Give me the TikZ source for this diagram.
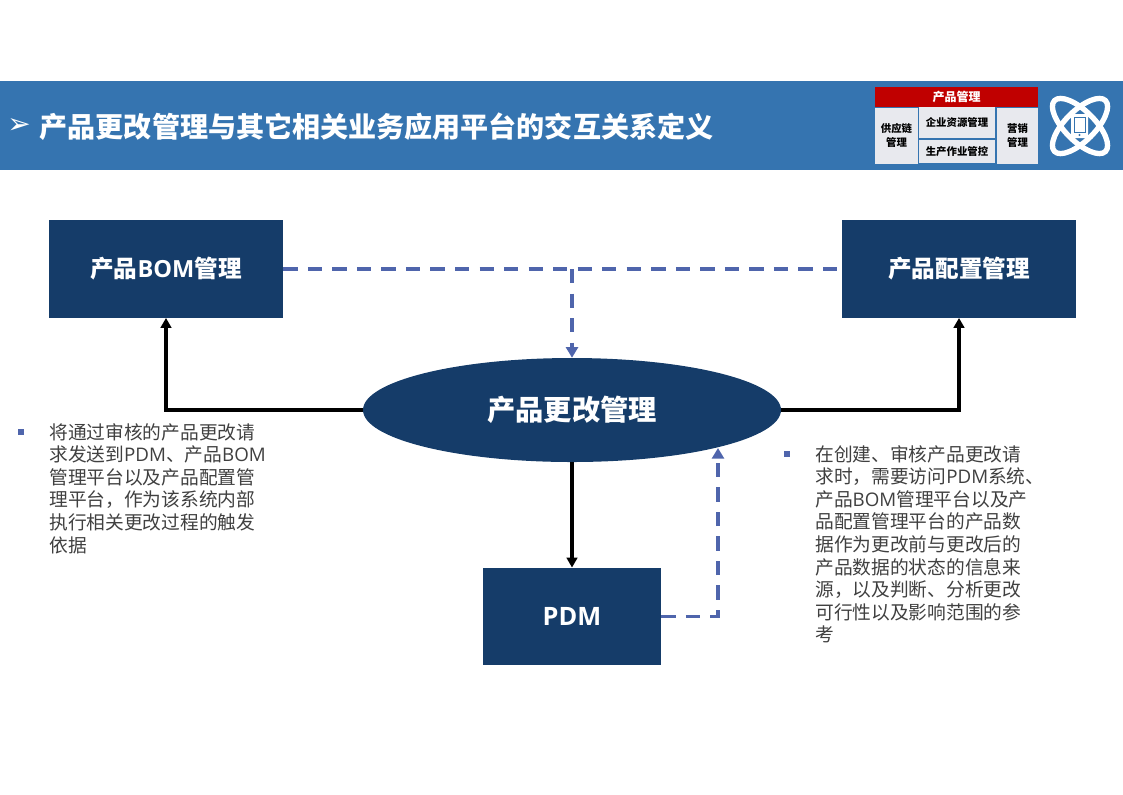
\documentclass[tikz,border=0pt]{standalone}
\usepackage{fontspec}
\setmainfont{Noto Sans CJK SC}
\newfontfamily\latfont{Open Sans}
\newfontfamily\symfont{DejaVu Sans}
\usetikzlibrary{arrows.meta,shapes.geometric}

\definecolor{bannerblue}{HTML}{3574B0}
\definecolor{boxnavy}{HTML}{153C69}
\definecolor{dashblue}{HTML}{4F65AC}
\definecolor{logored}{HTML}{C00000}
\definecolor{cellgray}{HTML}{E8E9EE}
\definecolor{bodygray}{HTML}{404040}

\tikzset{
  navybox/.style={fill=boxnavy,text=white,font=\fontsize{17.7}{22}\selectfont\bfseries,inner sep=0pt,minimum height=73pt},
  solidarrow/.style={line width=2.7pt,-{Triangle[length=7.5pt,width=8pt]}},
  dashline/.style={dashblue,line width=2.9pt,dash pattern=on 10.7pt off 7.7pt},
  dasharrow/.style={dashline,-{Triangle[length=8pt,width=9pt]}},
  bodytext/.style={text=bodygray,font=\fontsize{14.05}{16.95}\selectfont,align=left,anchor=north west,inner sep=0pt},
  bulletmark/.style={fill=dashblue,inner sep=0pt,minimum size=4pt},
  logocell/.style={fill=cellgray,inner sep=0pt,font=\fontsize{7.8}{10}\selectfont\bfseries,text=black,align=center},
  iconline/.style={draw=white,line width=4pt}
}

\begin{document}
\begin{tikzpicture}[x=0.75pt,y=-0.75pt]
  \useasboundingbox (0,0) rectangle (1123,794);

  % Banner
  \fill[bannerblue] (0,81) rectangle (1123,170);
  \node[text=white,font=\symfont\fontsize{21}{26}\selectfont,inner sep=0pt] (bannermark) at (19,126) {➢};
  \node[text=white,font=\fontsize{21.05}{26}\selectfont\bfseries,anchor=west,inner sep=0pt] (bannertitle) at (39.5,127) {产品更改管理与其它相关业务应用平台的交互关系定义};

  % Small map of the areas
  \node[fill=logored,text=white,font=\fontsize{9}{11}\selectfont\bfseries,inner sep=0pt,minimum width=122.25pt,minimum height=15pt] (logohead) at (956.5,97) {产品管理};
  \node[logocell,minimum width=32.25pt,minimum height=42pt] (logoleft) at (896.5,135.5) {供应链\\管理};
  \node[logocell,minimum width=57pt,minimum height=23pt] (logotop) at (957,122.5) {企业资源管理};
  \node[logocell,minimum width=57pt,minimum height=17.5pt] (logobottom) at (957,151.5) {生产作业管控};
  \node[logocell,minimum width=30.75pt,minimum height=42pt] (logoright) at (1017.5,135.5) {营销\\管理};

  % Atom icon
  \draw[iconline,rotate around={45:(1080,126)}] (1080,126) ellipse (36 and 15);
  \draw[iconline,rotate around={-45:(1080,126)}] (1080,126) ellipse (36 and 15);
  \fill[white,rounded corners=2pt] (1071,114) rectangle (1088,138);
  \draw[bannerblue,line width=0.6pt] (1074,117) rectangle (1085,132);
  \fill[bannerblue] (1079.5,135) circle (1.2);

  % Boxes
  \node[navybox,minimum width=175.5pt] (bom) at (166,269) {产品{\latfont BOM}管理};
  \node[navybox,minimum width=175.5pt] (config) at (959,269) {产品配置管理};
  \node[navybox,minimum width=133.5pt,font=\fontsize{19}{22}\selectfont\bfseries] (pdm) at (572,616.5) {{\latfont PDM}};
  \node[ellipse,fill=boxnavy,text=white,font=\fontsize{21.2}{26}\selectfont\bfseries,inner sep=0pt,minimum width=313.5pt,minimum height=78pt] (change) at (572,410) {产品更改管理};

  % Solid links
  \draw[solidarrow] (change.west) -| (bom.south);
  \draw[solidarrow] (change.east) -| (config.south);
  \draw[solidarrow] (change.south) -- (pdm.north);

  % Dashed links
  \draw[dashline] (bom.east) -- (config.west);
  \draw[dasharrow] (change.north |- bom.east) -- (change.north);
  \coordinate (backin) at (718,448);
  \draw[dasharrow] (pdm.east) -| (backin);

  % Notes
  \node[bulletmark] (leftmark) at (21,432) {};
  \node[bodytext] (leftnote) at (49,423) {将通过审核的产品更改请\\求发送到{\latfont PDM}、产品{\latfont BOM}\\管理平台以及产品配置管\\理平台，作为该系统内部\\执行相关更改过程的触发\\依据};
  \node[bulletmark] (rightmark) at (787,454) {};
  \node[bodytext] (rightnote) at (815,445) {在创建、审核产品更改请\\求时，需要访问{\latfont PDM}系统、\\产品{\latfont BOM}管理平台以及产\\品配置管理平台的产品数\\据作为更改前与更改后的\\产品数据的状态的信息来\\源，以及判断、分析更改\\可行性以及影响范围的参\\考};
\end{tikzpicture}
\end{document}
